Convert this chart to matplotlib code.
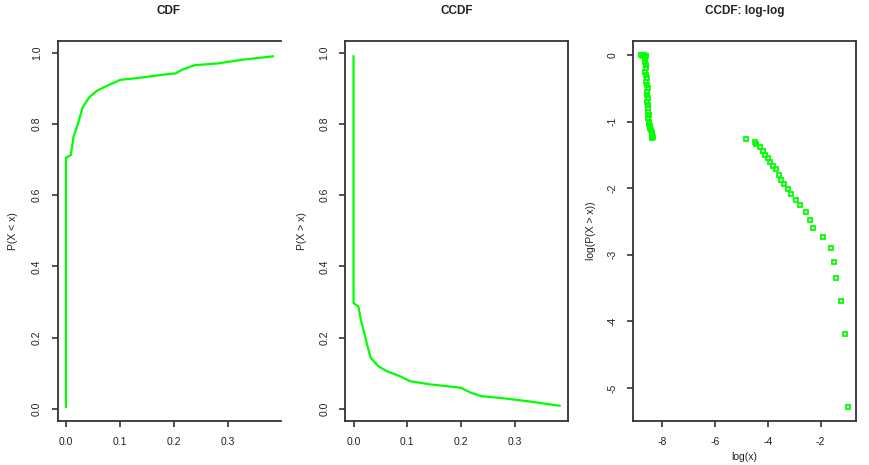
import matplotlib
matplotlib.use("Agg")
import matplotlib.pyplot as plt

plt.rcParams['font.family'] = ['Liberation Sans', 'DejaVu Sans']
plt.rcParams['axes.unicode_minus'] = False

# ---- data ----
cdf_x = [0.0, 0.0, 0.009, 0.014, 0.022, 0.031, 0.043, 0.058, 0.077, 0.101,
         0.138, 0.188, 0.203, 0.216, 0.238, 0.281, 0.325, 0.383]
cdf_y = [0.006, 0.705, 0.713, 0.764, 0.80, 0.847, 0.875, 0.894, 0.908, 0.924,
         0.93, 0.94, 0.942, 0.953, 0.965, 0.97, 0.98, 0.99]

ccdf_x = [0.0, 0.0, 0.009, 0.0136, 0.02, 0.026, 0.032, 0.046, 0.062, 0.086,
          0.105, 0.142, 0.191, 0.2, 0.219, 0.238, 0.284, 0.327, 0.383]
ccdf_y = [0.99, 0.297, 0.288, 0.25, 0.213, 0.176, 0.143, 0.12, 0.106, 0.092,
          0.078, 0.069, 0.061, 0.059, 0.045, 0.036, 0.029, 0.021, 0.009]

loglog_x = [-8.78, -8.74, -8.70, -8.66, -8.62, -8.66, -8.64, -8.62, -8.60, -8.63,
            -8.61, -8.58, -8.60, -8.57, -8.55, -8.58, -8.56, -8.54, -8.57, -8.53,
            -8.55, -8.52, -8.50, -8.53, -8.50, -8.48, -8.45, -8.47, -8.42, -8.40,
            -8.37, -8.35, -8.38,
            -4.84, -4.50, -4.44, -4.31, -4.19, -4.10, -4.00, -3.90, -3.81, -3.69,
            -3.59, -3.50, -3.375, -3.25, -3.125, -2.94, -2.775, -2.54, -2.40, -2.275,
            -1.91, -1.625, -1.50, -1.41, -1.21, -1.09, -0.975]
loglog_y = [0.0, -0.01, -0.005, -0.02, -0.01, -0.06, -0.10, -0.15, -0.20, -0.25,
            -0.30, -0.35, -0.40, -0.45, -0.50, -0.55, -0.60, -0.65, -0.70, -0.75,
            -0.80, -0.85, -0.90, -0.95, -1.00, -1.03, -1.06, -1.10, -1.13, -1.16,
            -1.20, -1.23, -1.25,
            -1.265, -1.30, -1.33, -1.375, -1.44, -1.50, -1.55, -1.60, -1.665, -1.715,
            -1.80, -1.875, -1.93, -2.015, -2.09, -2.175, -2.255, -2.355, -2.475, -2.59,
            -2.73, -2.90, -3.105, -3.35, -3.69, -4.19, -5.28]

lin_xticks = [0.0, 0.1, 0.2, 0.3]
lin_xlabels = ["0.0", "0.1", "0.2", "0.3"]
lin_yticks = [0.0, 0.2, 0.4, 0.6, 0.8, 1.0]
lin_ylabels = ["0.0", "0.2", "0.4", "0.6", "0.8", "1.0"]
log_xticks = [-8, -6, -4, -2]
log_yticks = [0, -1, -2, -3, -4, -5]

titles = ["CDF", "CCDF", "CCDF: log-log"]
ylabels = ["P(X < x)", "P(X > x)", "log(P(X > x))"]
xlabel3 = "log(x)"

W, H = 870, 465
fig = plt.figure(figsize=(W / 100, H / 100), dpi=100)
GREEN = "#00FF00"
SPINE = "#333333"


def add_ax(l, r, t, b):
    return fig.add_axes([l / W, 1 - b / H, (r - l) / W, (b - t) / H])


def style(ax, right=True):
    for s in ["left", "bottom", "top", "right"]:
        ax.spines[s].set_color(SPINE)
        ax.spines[s].set_linewidth(1.3)
    if not right:
        ax.spines["right"].set_visible(False)
    ax.tick_params(axis="both", direction="out", length=4.5, width=1.2,
                   color=SPINE, labelsize=7.5, labelcolor="#222222")
    ax.tick_params(axis="y", pad=7)
    ax.tick_params(axis="x", pad=7)
    for lab in ax.get_yticklabels():
        lab.set_rotation(90)
        lab.set_va("center")


# Panel 1: CDF
ax1 = add_ax(57.7, 281, 41, 420.7)
ax1.plot(cdf_x, cdf_y, color=GREEN, lw=1.6)
ax1.set_xlim(-0.0153, 0.398)
ax1.set_ylim(-0.033, 1.033)
ax1.set_xticks(lin_xticks, lin_xlabels)
ax1.set_yticks(lin_yticks, lin_ylabels)
style(ax1, right=False)

# Panel 2: CCDF
ax2 = add_ax(345.3, 567.7, 41, 420.7)
ax2.plot(ccdf_x, ccdf_y, color=GREEN, lw=1.6)
ax2.set_xlim(-0.0153, 0.398)
ax2.set_ylim(-0.033, 1.033)
ax2.set_xticks(lin_xticks, lin_xlabels)
ax2.set_yticks(lin_yticks, lin_ylabels)
style(ax2)

# Panel 3: log-log
ax3 = add_ax(633.3, 856, 41, 420.7)
ax3.plot(loglog_x, loglog_y, linestyle="none", marker="s", markersize=3.2,
         markerfacecolor="none", markeredgecolor=GREEN, markeredgewidth=1.3)
ax3.set_xlim(-9.09, -0.66)
ax3.set_ylim(-5.49, 0.21)
ax3.set_xticks(log_xticks, [str(v) for v in log_xticks])
ax3.set_yticks(log_yticks, [str(v) for v in log_yticks])
style(ax3)

# Titles and axis labels
centers = [169, 456.5, 744.6]
for cx, t in zip(centers, titles):
    fig.text(cx / W, 1 - 11 / H, t, ha="center", va="center",
             fontsize=8.5, fontweight="bold", color="#222222")

ylab_x = [13, 302, 591]
for x, lab in zip(ylab_x, ylabels):
    fig.text(x / W, 1 - 231 / H, lab, ha="center", va="center", rotation=90,
             fontsize=7.5, color="#222222")

fig.text(744.6 / W, 1 - 452 / H, xlabel3, ha="center", va="top",
         fontsize=7.5, color="#222222")

fig.savefig("out.png", dpi=100)
